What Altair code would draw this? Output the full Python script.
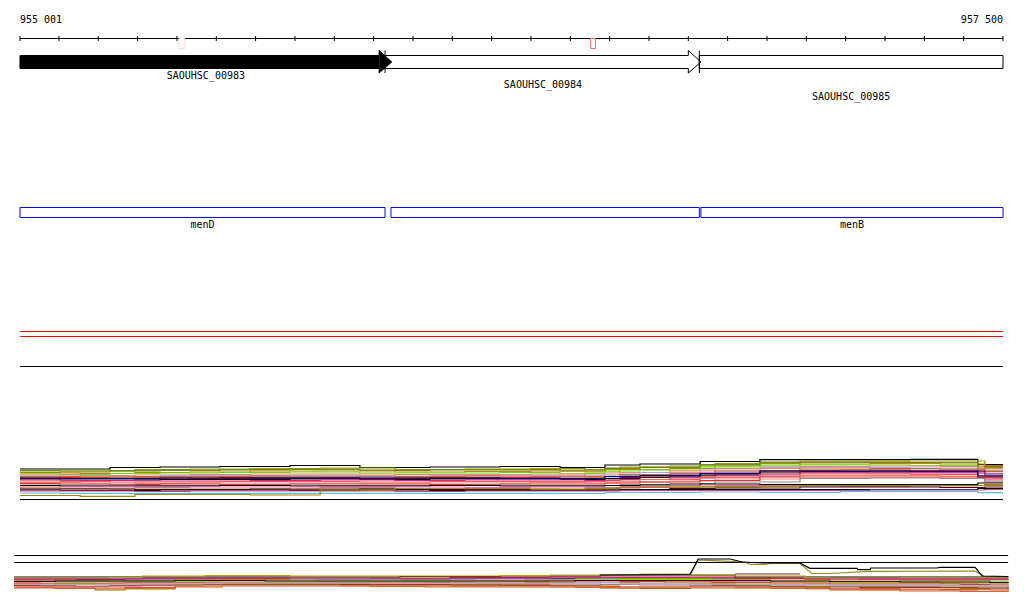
import altair as alt
import pandas as pd

# ---------------- data ----------------
RANGE_START = 955001
RANGE_END = 957500
ruler_ticks = [955001] + list(range(955100, 957501, 100))

gene_names = ["SAOUHSC_00983", "SAOUHSC_00984", "SAOUHSC_00985"]
gene_starts = [955001, 955929, 956728]
gene_ends = [955946, 956732, 957500]
gene_has_arrow = [True, True, False]
gene_filled = [True, False, False]

feature_names = ["menD", "", "menB"]
feature_starts = [955001, 955944, 956732]
feature_ends = [955929, 956728, 957500]

variant_starts = [955405, 956451]
variant_ends = [955420, 956464]

# coverage track A (depth below track top); samples are read at two staggered sets of positions
cov_a_positions_1 = [955001, 955103, 955230, 955357, 955509, 955687, 955865, 956043, 956221,
                     956374, 956488, 956577, 956730, 956882, 957086, 957264, 957436, 957500]
cov_a_positions_2 = [955001, 955154, 955293, 955433, 955586, 955764, 955954, 956132, 956298,
                     956437, 956526, 956653, 956768, 956984, 957162, 957340, 957454, 957500]
cov_a_series = {
    "a01": [29, 29, 27.5, 27, 26.5, 25.5, 27.5, 27, 26.5, 27.5, 25, 24, 21.5, 19.7, 19.7, 19.3, 24.7, 24.7],
    "a02": [31, 31, 29.5, 29, 28.5, 28, 29.5, 29, 28.5, 29.5, 27, 26, 23.5, 21, 21, 21, 25.5, 25.5],
    "a03": [32.5, 32, 31, 30.5, 30, 29.5, 30.5, 30, 30, 31, 28.5, 27.5, 25, 22.5, 22, 22.5, 26.5, 26.5],
    "a04": [33, 33.5, 32.5, 32, 31, 31, 32, 31.5, 31, 32, 29.5, 28.5, 26, 24, 23.5, 24, 27.5, 27.5],
    "a05": [34, 34.5, 33.5, 33, 32.5, 32, 33, 33, 32.5, 33.5, 31, 30, 27, 25, 25, 25.5, 31.5, 31.5],
    "a06": [35, 35.5, 35, 34.5, 34, 34, 34.5, 34.5, 34, 35, 32.5, 31, 28.5, 26.5, 26, 26.5, 29, 29],
    "a07": [36, 36, 36.5, 35.5, 35.5, 35, 36, 35.5, 35, 36, 34, 32.5, 30, 27.5, 27.5, 28, 33, 33],
    "a08": [37, 37, 37.5, 37, 36.5, 36.5, 37, 37, 36.5, 37, 35.5, 34, 32, 30, 29, 29.5, 41, 41],
    "a09": [38, 37.5, 38, 38, 37.5, 37.5, 38, 37.5, 37.5, 38, 36.5, 35, 33, 30.5, 30, 30.5, 31, 31],
    "a10": [38.5, 38.5, 39, 38.5, 38.5, 38.5, 38.5, 38.5, 38.5, 39, 37.5, 36, 34, 31.5, 31, 31, 34, 34],
    "a11": [39, 40, 40, 39.5, 39.5, 39, 39.5, 39, 39, 39.5, 38.5, 37, 35, 32, 32, 32, 36, 36],
    "a12": [40, 40.5, 41, 41, 40.5, 40, 40.5, 40, 40, 40.5, 39.5, 38, 36, 33, 33, 33, 39, 39],
    "a13": [41, 41.5, 42, 42, 41.5, 41.5, 42, 41.5, 41.5, 41.5, 41, 39.5, 37.5, 34, 34, 34.5, 38, 38],
    "a14": [42.5, 43, 43.5, 43, 43, 43, 43, 43, 42.5, 43, 42, 41, 39, 35.5, 35.5, 36, 40, 40],
    "a15": [43.5, 44, 44.5, 44, 44.5, 44, 44, 44.5, 44, 44, 43, 42, 40.5, 37, 37, 37, 37.5, 37.5],
    "a16": [45, 45, 45.5, 45.5, 45, 45.5, 45.5, 45, 45.5, 45.5, 44.5, 43.5, 42, 38.5, 38, 38.5, 42, 42],
    "a17": [45.5, 46, 46, 46, 45.5, 46, 46, 45.5, 46, 46, 45.5, 45, 44, 44.5, 44.5, 44.5, 43, 43],
    "a18": [47, 47, 47.5, 47, 47, 47.5, 47, 47.5, 47, 47.5, 46.5, 46, 45.5, 45.5, 45.5, 45.5, 44, 44],
    "a19": [48, 48.5, 49, 49, 49, 49.5, 48.5, 49, 49, 49.5, 48, 47.5, 47, 46, 46.5, 46, 45.5, 45.5],
    "a20": [49, 49, 49.5, 49.5, 49, 49, 49.5, 49.5, 50, 50, 49.5, 48.5, 48, 47, 47, 47.5, 47, 47],
    "a21": [50, 50.5, 50.5, 50, 50, 50.5, 50, 50.5, 50.5, 50.5, 50, 49.5, 49.5, 49.5, 49.5, 49.5, 48.5, 48.5],
    "a22": [51, 51, 51.5, 51, 51, 51, 51.5, 51, 51, 51, 50.5, 50.5, 50.5, 50.5, 50, 50, 49.5, 49.5],
    "a23": [53, 53.3, 53.3, 53.3, 53.3, 53.3, 53.3, 53.3, 53.3, 53.3, 52.3, 52.3, 52, 52.3, 51.3, 51.3, 52.7, 52.7],
    "a24": [55.5, 56.3, 54.5, 54.5, 55, 50, 48.5, 48.5, 49, 48.5, 47.5, 47, 46.5, 45.5, 45.5, 45.5, 44.5, 44.5],
    "a25": [30.5, 30, 30.5, 30, 29.5, 29, 30, 29.5, 29.5, 30, 28, 27, 24.5, 22, 22.5, 22.5, 28, 28],
    "a26": [36.5, 37, 36.5, 36.5, 36, 36, 36.5, 36, 36, 36.5, 34.5, 33.5, 31, 29, 28.5, 29, 25.5, 25.5],
    "a27": [38, 38.5, 38.5, 38, 38, 38, 38, 38, 38.5, 38.5, 36.5, 35.5, 33.5, 31, 31, 31.5, 36, 36],
}

# coverage track B (depth below track top)
cov_b_positions_1 = [954986, 955052, 955141, 955230, 955311, 955471, 955560, 955687, 955815, 955967, 956094,
                     956221, 956348, 956476, 956577, 956704, 956819, 956997, 957136, 957340, 957436, 957513]
cov_b_positions_2 = [954986, 955090, 955192, 955268, 955395, 955515, 955624, 955751, 955891, 956031, 956158,
                     956285, 956412, 956526, 956641, 956760, 956908, 957060, 957238, 957391, 957467, 957513]
cov_b_series = {
    "b01": [37, 37, 37, 37, 37, 37, 37, 37, 37, 36.5, 36.5, 36, 36, 35, 35, 35, 37, 37, 37, 37, 37, 36.5],
    "b02": [40, 39.5, 39.5, 39, 39, 39.5, 39.5, 39.5, 39, 39, 38.5, 38.5, 38, 38, 38, 38, 38.5, 38, 38.5, 38.5, 38.5, 38.5],
    "b03": [39.5, 39.5, 39, 39, 38.5, 38.5, 38.5, 39, 39, 39, 38.5, 38.5, 38, 37.5, 37.5, 38, 38.5, 39, 39.5, 39.5, 39.5, 39],
    "b04": [41, 40.5, 40.5, 40.5, 40, 39.5, 39.5, 40, 40, 40, 40, 39.5, 39, 38.5, 38.5, 39.5, 40, 41, 40.5, 40.5, 41, 40.5],
    "b05": [42, 41.5, 41.5, 41, 41, 40.5, 40.5, 40, 40, 40.5, 40, 40, 40, 39.5, 40, 40.5, 41, 41.5, 41.5, 42, 42, 42],
    "b06": [43.5, 42.5, 42, 41.5, 41.5, 41, 41, 41.5, 41.5, 41.5, 41, 40.5, 40, 39.5, 39.5, 40, 41.5, 42.5, 42.5, 43, 43.5, 43],
    "b07": [42.5, 43, 43, 42.5, 42.5, 42, 42, 42, 42.5, 42.5, 42, 41.5, 41, 40.5, 41, 41.5, 42, 43, 43, 43.5, 44, 43.5],
    "b08": [43.5, 43.5, 43.5, 43, 43, 43, 43, 43, 43.5, 43, 43, 42.5, 42, 41.5, 42, 42.5, 43, 44, 44, 44.5, 45, 44.5],
    "b09": [44.5, 45, 45, 44, 44, 43.5, 43.5, 43.5, 44, 44, 43.5, 43.5, 43, 42.5, 43, 43.5, 44, 45, 45, 45.5, 45.5, 45],
    "b10": [45, 44.5, 45, 44.5, 44.5, 44, 44, 44, 44.5, 44.5, 44, 44, 44, 43.5, 44, 44.5, 45, 45.5, 46, 46, 46, 45.5],
    "b11": [46, 46, 46.5, 45.5, 45, 44.5, 44.5, 44.5, 45, 45, 45, 44.5, 45, 44.5, 45, 45, 46, 46.5, 46.5, 47, 47, 46.5],
    "b12": [47, 48.5, 50, 49, 44, 44, 44, 44, 44.5, 45, 45, 45.5, 46, 47, 47, 45.5, 46.5, 49.5, 49.5, 48.5, 49, 47.5],
    "b13": [45.5, 46, 46.5, 46, 45.5, 45, 45, 45, 44.5, 44.5, 45, 45.5, 46, 48, 48.5, 46, 47, 48, 47.5, 47.5, 48, 47],
    "b14": [47.5, 47.5, 48, 47.5, 46, 45.5, 45.5, 45.5, 45.5, 46, 46, 46, 46.5, 47, 47, 47, 47.5, 48.5, 49, 49.5, 50, 49],
    "b15": [46.5, 47, 47, 46.5, 46, 45.5, 45.5, 45.5, 46, 46, 46.5, 46.5, 47, 47.5, 47.5, 47, 48, 49, 50, 50.5, 50, 49.5],
    "b16": [48, 48.5, 49, 48.5, 47, 46, 46, 46, 46.5, 47, 47, 47, 47.5, 48, 48, 48, 48.5, 50, 51, 51.5, 51.5, 50.5],
    "b17": [38.5, 38.5, 38.5, 38, 38, 38, 38, 38, 38, 38, 37.5, 37.5, 37, 37, 37, 37, 38, 39, 38.5, 38.5, 38.5, 38.5],
    "b18": [41.5, 41, 41, 41, 40.5, 40.5, 41, 41, 41, 41, 41, 41, 40.5, 40.5, 40.5, 40.5, 41, 41.5, 42, 42, 42.5, 42],
    "b19": [38, 38, 38, 37.5, 36, 35.5, 35.5, 36, 36, 36, 36, 35.5, 35, 34.5, 34, 34.5, 36, 38, 38, 38, 38, 38],
    "b20": [44, 44, 44, 43.5, 43.5, 43, 43, 43, 43.5, 43.5, 43, 43, 42.5, 44, 44.5, 44, 44.5, 45, 45, 45.5, 45.5, 45],
}

# outlying samples in track B
out_black_positions = [956476, 956704, 956725, 956806, 956837, 956887, 956984, 957009, 957129, 957131,
                       957162, 957164, 957332, 957340, 957429, 957447, 957513]
out_black_depth = [35, 34.5, 19, 19, 22, 23, 23, 28.3, 28.3, 29.7, 29.7, 28, 28, 27.3, 27.3, 36, 36.5]
out_olive_positions = [956704, 956725, 956763, 956844, 956857, 956895, 956908, 956984, 957014, 957060,
                       957162, 957429, 957454, 957513]
out_olive_depth = [36, 20, 20.7, 22, 24.5, 24.5, 23.5, 23.5, 33.5, 33.5, 31.3, 31, 37, 37]
out_maroon_positions = [956819, 956984]
out_maroon_depth = [34, 34]

# ---------------- styles / layout ----------------
cov_a_colors = {
    "a01": "#000000", "a02": "#999900", "a03": "#808000", "a04": "#b8860b", "a05": "#66dd00",
    "a06": "#ee8866", "a07": "#b39ddb", "a08": "#66b3e6", "a09": "#dc143c", "a10": "#880044",
    "a11": "#000000", "a12": "#cc2299", "a13": "#ff6347", "a14": "#fa8072", "a15": "#e03030",
    "a16": "#a08080", "a17": "#000000", "a18": "#ee66aa", "a19": "#a08820", "a20": "#550022",
    "a21": "#000000", "a22": "#cc4488", "a23": "#66b8e8", "a24": "#998800", "a25": "#6b8e23",
    "a26": "#d2691e", "a27": "#000080",
}
cov_b_colors = {
    "b01": "#000000", "b02": "#1a1a6e", "b03": "#cc33aa", "b04": "#999900", "b05": "#77bbee",
    "b06": "#66ee00", "b07": "#f08060", "b08": "#b05030", "b09": "#d8892c", "b10": "#b0a0d0",
    "b11": "#b07070", "b12": "#7a8a10", "b13": "#8b4513", "b14": "#e8552a", "b15": "#ee88aa",
    "b16": "#d2691e", "b17": "#cc1144", "b18": "#440011", "b19": "#b8a800", "b20": "#b8a8c8",
}
variant_colors = ["#ffd8c8", "#f07050"]

W, H = 1008, 595
x_scale = alt.Scale(domain=[954970.5, 957533.0], nice=False, zero=False)
y_scale = alt.Scale(domain=[8, 603], reverse=True, nice=False, zero=False)
FONT = "DejaVu Sans Mono"

RANGE_LABEL_Y = 20
RULER_Y = 38.5
TICK_TOP, TICK_BOT = 36, 41
VAR_TOP, VAR_BOT = 38.5, 48.5
GENE_TOP, GENE_BOT = 55.5, 68.5
HEAD_TOP, HEAD_BOT = 50.5, 73
HEAD_LEN = 32
GENE_LABEL_ROWS = [76, 85, 97]
FEAT_TOP, FEAT_BOT, FEAT_LABEL = 207.5, 217.5, 224.5
RED1, RED2, SEP = 331.5, 336.5, 366.5
COV_A_TOP, COV_A_BASE = 440, 499.5
COV_B_TOP, COV_B_L1, COV_B_L2 = 540, 555.5, 562.5
COV_B_START, COV_B_END = cov_b_positions_1[0], cov_b_positions_1[-1]


def X(f="pos"):
    return alt.X(f"{f}:Q", scale=x_scale, axis=None)


def Y(f="y"):
    return alt.Y(f"{f}:Q", scale=y_scale, axis=None)


layers = []

# range labels
fmt = lambda v: f"{v:,}".replace(",", " ")
layers.append(alt.Chart(pd.DataFrame({"pos": [RANGE_START], "y": [RANGE_LABEL_Y], "t": [fmt(RANGE_START)]}))
              .mark_text(align="left", baseline="middle", font=FONT, fontSize=10, color="black")
              .encode(x=X(), y=Y(), text="t:N"))
layers.append(alt.Chart(pd.DataFrame({"pos": [RANGE_END], "y": [RANGE_LABEL_Y], "t": [fmt(RANGE_END)]}))
              .mark_text(align="right", baseline="middle", font=FONT, fontSize=10, color="black")
              .encode(x=X(), y=Y(), text="t:N"))

# ruler
layers.append(alt.Chart(pd.DataFrame({"pos": [RANGE_START], "pos2": [RANGE_END], "y": [RULER_Y]}))
              .mark_rule(color="black", strokeWidth=1)
              .encode(x=X(), x2="pos2:Q", y=Y()))
layers.append(alt.Chart(pd.DataFrame({"pos": ruler_ticks, "y": TICK_TOP, "y2": TICK_BOT}))
              .mark_rule(color="black", strokeWidth=1)
              .encode(x=X(), y=Y(), y2="y2:Q"))

# variant markers
layers.append(alt.Chart(pd.DataFrame({"pos": variant_starts, "pos2": variant_ends, "y": VAR_TOP,
                                      "y2": VAR_BOT, "c": variant_colors}))
              .mark_rect(filled=False, strokeWidth=1)
              .encode(x=X(), x2="pos2:Q", y=Y(), y2="y2:Q", stroke=alt.Stroke("c:N", scale=None)))

# genes
outline_rows, body_rows, head_rows = [], [], []
for i, (n, s, e, arr, fil) in enumerate(zip(gene_names, gene_starts, gene_ends, gene_has_arrow, gene_filled)):
    mid = (GENE_TOP + GENE_BOT) / 2
    if arr:
        hs = e - HEAD_LEN
        pts = [(s, GENE_TOP), (hs, GENE_TOP), (hs, HEAD_TOP), (e, mid), (hs, HEAD_BOT),
               (hs, GENE_BOT), (s, GENE_BOT), (s, GENE_TOP)]
    else:
        hs = e
        pts = [(s, GENE_TOP), (e, GENE_TOP), (e, GENE_BOT), (s, GENE_BOT), (s, GENE_TOP)]
    for k, (px, py) in enumerate(pts):
        outline_rows.append({"gene": n, "o": k, "pos": px, "y": py})
    if fil:
        body_rows.append({"pos": s, "pos2": hs, "y": GENE_TOP, "y2": GENE_BOT})
        if arr:
            head_rows.append({"gene": n, "pos": hs, "y": HEAD_TOP, "y2": HEAD_BOT})
            head_rows.append({"gene": n, "pos": e, "y": mid, "y2": mid})

layers.append(alt.Chart(pd.DataFrame(body_rows)).mark_rect(color="black")
              .encode(x=X(), x2="pos2:Q", y=Y(), y2="y2:Q"))
layers.append(alt.Chart(pd.DataFrame(head_rows)).mark_area(color="black")
              .encode(x=X(), y=Y(), y2="y2:Q", detail="gene:N"))
layers.append(alt.Chart(pd.DataFrame(outline_rows)).mark_line(color="black", strokeWidth=1)
              .encode(x=X(), y=Y(), order="o:Q", detail="gene:N"))
layers.append(alt.Chart(pd.DataFrame({"pos": gene_starts[1:], "y": HEAD_TOP, "y2": HEAD_BOT}))
              .mark_rule(color="black", strokeWidth=1)
              .encode(x=X(), y=Y(), y2="y2:Q"))
layers.append(alt.Chart(pd.DataFrame({"s": gene_starts, "e": gene_ends, "name": gene_names,
                                      "y": GENE_LABEL_ROWS}))
              .transform_calculate(pos="(datum.s + datum.e) / 2")
              .mark_text(align="center", baseline="middle", font=FONT, fontSize=10, color="black")
              .encode(x=X(), y=Y(), text="name:N"))

# features
layers.append(alt.Chart(pd.DataFrame({"pos": feature_starts, "pos2": feature_ends, "y": FEAT_TOP, "y2": FEAT_BOT}))
              .mark_rect(filled=False, stroke="#0000ff", strokeWidth=1)
              .encode(x=X(), x2="pos2:Q", y=Y(), y2="y2:Q"))
layers.append(alt.Chart(pd.DataFrame({"s": feature_starts, "e": feature_ends, "name": feature_names,
                                      "y": FEAT_LABEL}))
              .transform_calculate(pos="(datum.s + datum.e) / 2")
              .mark_text(align="center", baseline="middle", font=FONT, fontSize=10, color="black")
              .encode(x=X(), y=Y(), text="name:N"))

# separators
layers.append(alt.Chart(pd.DataFrame({"pos": RANGE_START, "pos2": RANGE_END, "y": [RED1, RED2]}))
              .mark_rule(color="#ff0000", strokeWidth=1)
              .encode(x=X(), x2="pos2:Q", y=Y()))
layers.append(alt.Chart(pd.DataFrame({"pos": RANGE_START, "pos2": RANGE_END, "y": [SEP, COV_A_BASE]}))
              .mark_rule(color="black", strokeWidth=1)
              .encode(x=X(), x2="pos2:Q", y=Y()))
layers.append(alt.Chart(pd.DataFrame({"pos": COV_B_START, "pos2": COV_B_END, "y": [COV_B_L1, COV_B_L2]}))
              .mark_rule(color="black", strokeWidth=1)
              .encode(x=X(), x2="pos2:Q", y=Y()))


def cov_frame(pos_sets, series, colors, top):
    rows = []
    for idx, (name, vals) in enumerate(series.items()):
        positions = pos_sets[idx % 2]
        assert len(vals) == len(positions), name
        for p, v in zip(positions, vals):
            rows.append({"series": name, "pos": p, "y": top + v, "c": colors[name]})
    return pd.DataFrame(rows)


layers.append(alt.Chart(cov_frame([cov_a_positions_1, cov_a_positions_2], cov_a_series, cov_a_colors, COV_A_TOP))
              .mark_line(interpolate="step-after", strokeWidth=1.2)
              .encode(x=X(), y=Y(), detail="series:N", color=alt.Color("c:N", scale=None)))
layers.append(alt.Chart(cov_frame([cov_b_positions_1, cov_b_positions_2], cov_b_series, cov_b_colors, COV_B_TOP))
              .mark_line(interpolate="step-after", strokeWidth=1.2)
              .encode(x=X(), y=Y(), detail="series:N", color=alt.Color("c:N", scale=None)))

out_rows = []
for name, ps, ds, col in [("maroon", out_maroon_positions, out_maroon_depth, "#7a3344"),
                          ("olive", out_olive_positions, out_olive_depth, "#998822"),
                          ("black", out_black_positions, out_black_depth, "#000000")]:
    for p, d in zip(ps, ds):
        out_rows.append({"series": name, "pos": p, "y": COV_B_TOP + d, "c": col})
layers.append(alt.Chart(pd.DataFrame(out_rows))
              .mark_line(strokeWidth=1.2)
              .encode(x=X(), y=Y(), detail="series:N", color=alt.Color("c:N", scale=None)))

chart = (alt.layer(*layers)
         .properties(width=W, height=H, padding=0, autosize="none")
         .configure_view(stroke=None))

chart.save("out.html", embed_options={"renderer": "svg", "actions": False})
